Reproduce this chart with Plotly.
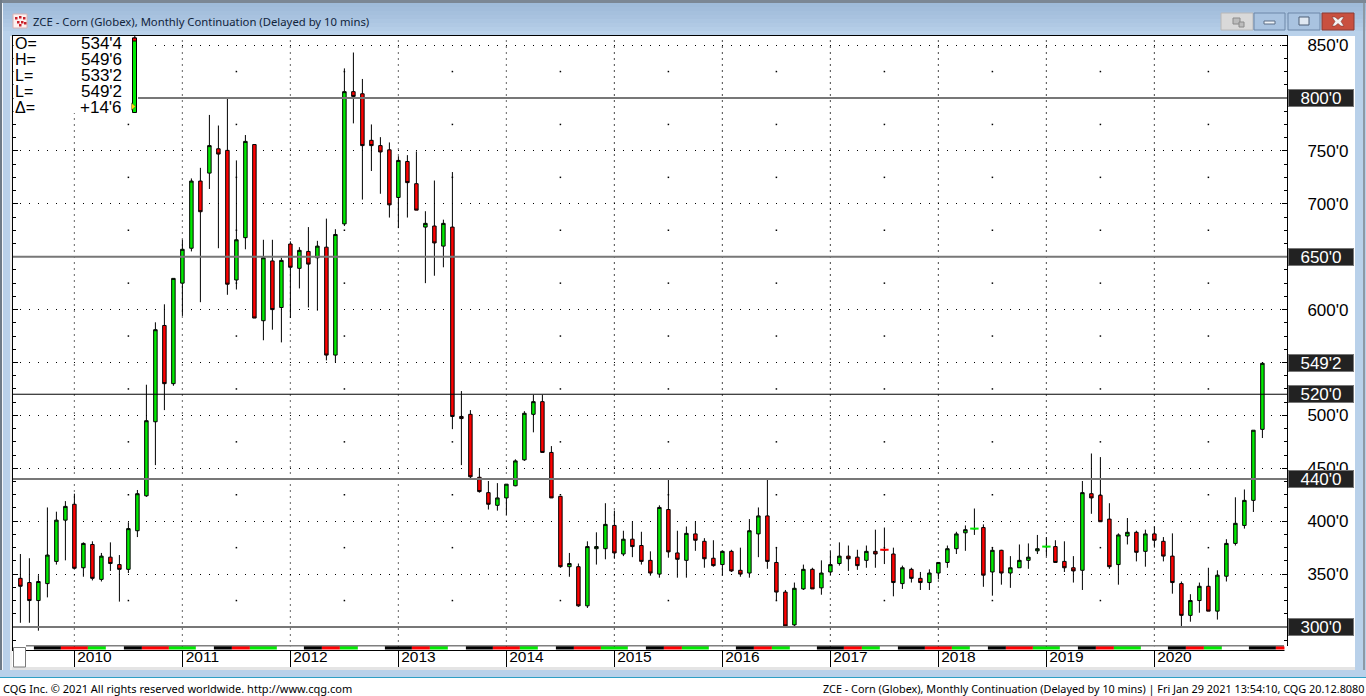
import plotly.graph_objects as go

# ---------- data ----------
month_index = list(range(-6, 133))  # months since Jan 2010; Jul 2009 .. Jan 2021
opens = [346,342,325,341,362,401,
 416,356,378,345,366,359,354.5,391,424,494,585,530,
 625,658,721.5,729,752,750.5,628,668,756,589.5,646,602,
 662,639,655,649,659,557,681,806,804,760,755,751,
 706,740,719,678,679,660,678,499,501,441.5,427,415,
 422,433.5,458,501,513,465,423.5,357,357,320,374,374,
 396,369,383,377,363,350,411,370,363,388,381,365,
 359,371.5,353.6,351,388,405,361,333,302,336,354.5,337,
 352,360,367,366,363,371.5,373,369,341,354.5,346,342,
 351,361,374,389,393,394,352,372.5,351,356,363,372,
 376,376,362,356,353.6,426,424.5,402,359,386,389.5,371.5,
 388,381,367,341,311,325,338.5,315,348,379,396,419.7,
 486.8]
closes = [338.5,325,343,368,401,414,
 355.5,379,346,367,360,354.5,393,426,495,581,530,629.5,
 657,721.5,692.5,755,747,624,666,759,592,649,600,646.5,
 640,656,643,660,557,671,806,801.5,755,755,749,699,
 741,720,694,681.5,663,681.5,499,497,442,428,416,422,
 435,457,502,513,465,422,357,360,320,376,376,397,
 370,383,376,362,351,413,371,364,388.5,382,364.5,358,
 371.5,353,350,391,405,362,333,301,336.6,354.5,336,351,
 359,367,364.5,358,371.5,369,373,342,356,346,342,351,
 361,374,388,392,393,349,372.5,351,356,363,366,374,
 376,361,356,353,427,422,399.5,357,387,389.5,370.6,388,
 382,367,342,311,325,338.5,315,349,379,398,419.7,486,
 549.25]
highs = [369,365,349,413,409,419,
 426,380,381,370,380,368,399,429.5,529,588,605,629.5,
 666,724,734,784,774,800,741,765,756,666,666,649,
 664.5,659,678,665,686,676,828,843,818,775,763,758,
 745,746,749.5,693,722,685,730,523,505,450,438,436,
 435,458.5,504,519.5,519.5,471,423.5,370,360,381,389.5,417,
 410,391,400,390,371.5,415,439,391,395,400,384,382,
 372,373,375,402,413,439.6,375,335,342,359,356,363,
 371.5,380,377,373,377,392,394,375,358,356,352,354.5,
 361,377,390,396,412,397,375,373,367,378,379,387,
 385,382,381,367,438,464,460.6,417,388.5,403,391,392,
 395,385,388.5,343,331,342,356,353.6,383,422.6,430,486,
 549.5]
lows = [304,304,296.5,328,359,363,
 355,347.5,344,343,353,324,351,385,423,453,505,528,
 594,655,607,714,658,614,619,657,592,571,581,569,
 592,620,602,599,552,550,679,776,704,731,709.5,687,
 677,687,694,625,632,640,487,453,440,427,411,410,
 406,433,457,484,465,422,356,347.5,319,318,359,364,
 364.5,367,366,359,348.5,346.6,365.5,346.6,346.6,372,356,357,
 348.5,352,347.5,346.6,366,355,325,300,300,335,336,330.5,
 350,358,353,354,356,356,359.5,329,336,342,335,335,
 345,356,369,372,387,338,329.6,340,337,356,355,369,
 367,361,352,342,335,407,399.5,355,340,378,362,357,
 375,362,331.5,300.5,305,313.5,315,307,343,377,393,408.7,
 478.6]
doji_months = [90, 100, 108]
doji_prices = [373, 393, 376]
doji_colors = ["#ff0000", "#00ea00", "#00ea00"]

year_ticks = list(range(0, 132, 12))
year_labels = ["2010","2011","2012","2013","2014","2015","2016","2017","2018","2019","2020"]
price_ticks = [300,350,400,450,500,550,600,650,700,750,800,850]
price_labels = ["","350'0","400'0","450'0","500'0","","600'0","","700'0","750'0","","850'0"]
level_lines = [800, 650, 520, 440, 300]
tag_prices = [800, 650, 549.25, 520, 440, 300]
tag_labels = ["800'0", "650'0", "549'2", "520'0", "440'0", "300'0"]
mid_year_months = [6 + 12 * k for k in range(11)]
mid_levels = [325,375,425,475,525,575,625,675,725,775,825]
legend_labels = ["O=", "H=", "L=", "L=", "Δ="]
legend_values = ["534'4", "549'6", "533'2", "549'2", "+14'6"]
# colour strip under the plot: repeating four-year pattern of month runs
strip_runs = [("#000000",3),("#ff0000",3),("#00ea00",2),("#ffffff",2),
              ("#000000",2),("#ff0000",3),("#00ea00",3),("#ffffff",2),
              ("#000000",2),("#ff0000",2),("#00ea00",3),("#ffffff",3),
              ("#000000",2),("#ff0000",2),("#00ea00",2),("#ffffff",3),
              ("#000000",3),("#ff0000",2),("#00ea00",2),("#ffffff",2)]

title_text = "ZCE - Corn (Globex), Monthly Continuation (Delayed by 10 mins)"
status_left = "CQG Inc. © 2021 All rights reserved worldwide. http://www.cqg.com"
status_right = "ZCE - Corn (Globex), Monthly Continuation (Delayed by 10 mins) | Fri Jan 29 2021 13:54:10, CQG 20.12.8080"

# ---------- layout geometry ----------
W, H = 1366, 696
L, R, T, B = 13, 1287, 36, 650
x_lo = -(74.4 - L) / 9
x_hi = x_lo + (R - L) / 9
px_per_pt = 52.9 / 50
y_lo = 300 - (B - 627) / px_per_pt
y_hi = 300 + (627 - T) / px_per_pt

def fx(p): return (p - L) / (R - L)
def fy(p): return (B - p) / (B - T)

shapes = []
def rect(x0, y0, x1, y1, fill, line=None, lw=1, layer="below"):
    shapes.append(dict(type="rect", xref="paper", yref="paper", x0=fx(x0), x1=fx(x1), y0=fy(y0), y1=fy(y1),
                       fillcolor=fill, line=dict(color=line or fill, width=lw if line else 0), layer=layer))

# ---------- window chrome ----------
band = ["#7b8794","#9fbbd9","#a2bddb","#a5c0dd","#a8c2df","#acc6e2","#b0c9e4","#b4cde7","#b9d1ea"]
for k, col in enumerate(band):
    y0 = 0 if k == 0 else 3 + (k - 1) * 4
    y1 = 3 if k == 0 else (36 if k == len(band) - 1 else 3 + k * 4)
    rect(0, y0, W, y1, col)
rect(0, 36, 12, 678, "#b9d1ea")
rect(0, 0, 2, 678, "#6f7b87")
rect(2, 3, 3, 676, "#f2f6fb")
rect(10, 36, 12, 670, "#f0f0f0")
rect(1288, 36, 1355, 670, "#ffffff")
rect(1355, 36, W, 678, "#b9d1ea")
rect(1363, 3, 1365, 677, "#8c99a6")
rect(12, 650, 1355, 669, "#ffffff")
rect(12, 667, 1355, 670, "#e4e4e4")
rect(0, 670, W, 677, "#b9d1ea")
rect(0, 677, W, 678, "#2f9fc4")
rect(0, 678, W, H, "#ffffff")

# title icon
rect(13, 14, 27, 28, "#fdf1f1", "#d8b0b0")
for (a, b) in [(15, 17), (19, 16), (23, 17), (17, 21), (21, 21), (19, 24), (24, 22)]:
    rect(a, b, a + 2.5, b + 2.5, "#c8202a")

# window buttons
rect(1221, 13, 1253, 30, "#d9d9d9", "#b8b8b8")
rect(1233, 18, 1240, 24, "#bcbcbc", "#8a8a8a")
rect(1239, 22, 1244, 27, "#bcbcbc", "#8a8a8a")
rect(1254, 13, 1285, 30, "#a9c3e0", "#6d87a8")
rect(1264, 21, 1275, 24, "#eef3f8", "#5c6f86")
rect(1288, 13, 1320, 30, "#a9c3e0", "#6d87a8")
rect(1299, 17, 1309, 25, "#dfe8f2", "#4c5f76")
rect(1322, 13, 1354, 30, "#c9503f", "#8a3a34")
shapes.append(dict(type="path", xref="paper", yref="paper", layer="below", fillcolor="#f4f4f4",
    line=dict(color="#6e2a24", width=0.5),
    path="M {a} {b} L {c} {b} L {d} {e} L {f} {b} L {g} {b} L {h} {i} L {g} {j} L {f} {j} L {d} {k} L {c} {j} L {a} {j} L {l} {i} Z".format(
        a=fx(1332), c=fx(1335), d=fx(1338), f=fx(1341), g=fx(1344), h=fx(1341), l=fx(1335),
        b=fy(17), e=fy(19.5), i=fy(21.5), j=fy(26), k=fy(23.5))))

# legend box and mini candle
rect(L + 0.5, T + 0.5, 140, 113, "#ffffff", layer="above")
rect(137, 43, 150, 47, "#ffffff", layer="above")
rect(134.3, 36, 135.3, 38, "#000000", layer="above")
rect(132.5, 38, 136.5, 112.5, "#00ea00", "#000000", layer="above")
rect(132.5, 38, 136.5, 41, "#ff0000", "#000000", layer="above")
shapes.append(dict(type="path", xref="paper", yref="paper", layer="above", fillcolor="#ffe000",
    line=dict(color="#555555", width=0.5),
    path="M {} {} L {} {} L {} {} Z".format(fx(131.5), fy(103), fx(135.5), fy(106.5), fx(131.5), fy(110))))

# level lines
for v in level_lines:
    shapes.append(dict(type="line", xref="paper", yref="y", x0=fx(138) if v == 800 else 0, x1=1, y0=v, y1=v, layer="above",
                       line=dict(color="#000000" if v == 520 else "#777777", width=1 if v == 520 else 2)))

# colour strip, positioned on the month axis
rect(26, 645.5, 1284, 646.5, "#000000", layer="above")
edge = -5.5
shapes.append(dict(type="rect", xref="x", yref="paper", x0=edge, x1=edge + 1, y0=fy(649.5), y1=fy(646.5), fillcolor="#ffffff", line=dict(width=0), layer="above"))
edge += 1
done = False
while not done:
    for col, n in strip_runs:
        end = min(edge + n, 134.5)
        shapes.append(dict(type="rect", xref="x", yref="paper", x0=edge, x1=end, y0=fy(649.5), y1=fy(646.5), fillcolor=col, line=dict(width=0), layer="above"))
        edge = end
        if edge >= 134.5:
            done = True
            break

# bottom-left box
rect(13.5, 647.5, 25.5, 667, "#ffffff", "#7a7a7a", 1, layer="above")
# strip end: frame stops above the strip
rect(1284.5, 646, 1288, 651.5, "#ffffff", layer="above")

# ---------- annotations ----------
MAIN = "Liberation Sans"
ann = []
def text(x, y, s, size=16, color="#000000", anchor="left", family=MAIN, height=None):
    ann.append(dict(xref="paper", yref="paper", x=fx(x), y=fy(y), text=s, showarrow=False, xanchor=anchor, yanchor="middle",
                    height=height, font=dict(family=family, size=size, color=color)))

text(30.5, 21.5, title_text, 11.3, "#10243c", family="Noto Sans")
text(0.5, 688, status_left, 11, "#000000", family="Noto Sans")
text(1366, 688, status_right, 10.85, "#000000", "right", family="Noto Sans")
for k, (a, b) in enumerate(zip(legend_labels, legend_values)):
    text(12.5, 43 + 16 * k, a, 16, height=14)
    text(123.5, 43 + 16 * k, b, 17, anchor="right", height=14)
for v, s in zip(tag_prices, tag_labels):
    ann.append(dict(xref="paper", yref="y", x=fx(1321), y=v, text=s, showarrow=False, xanchor="center", yanchor="middle",
                    width=64, height=16, bgcolor="#222222", bordercolor="#777777", borderwidth=1, borderpad=0, align="center",
                    font=dict(family=MAIN, size=17, color="#ffffff")))

# ---------- figure ----------
grid_step = 6 / px_per_pt
grid_count = int((y_hi - y_lo) / grid_step)
fig = go.Figure()
fig.add_trace(go.Scatter(
    x=[m for m in mid_year_months for _ in mid_levels],
    y=[v for _ in mid_year_months for v in mid_levels],
    mode="markers", marker=dict(symbol="square", size=1.5, color="#000000"), hoverinfo="skip", showlegend=False))
fig.add_trace(go.Scatter(
    x=[m for m in year_ticks for _ in range(grid_count)],
    y=[y_lo + 3 / px_per_pt + n * grid_step for _ in year_ticks for n in range(grid_count)],
    mode="markers", marker=dict(symbol="square", size=1.2, color="#000000"), hoverinfo="skip", showlegend=False))
fig.add_trace(go.Candlestick(
    x=month_index, open=opens, high=highs, low=lows, close=closes, yaxis="y2",
    increasing=dict(line=dict(color="#000000", width=1), fillcolor="#00ea00"),
    decreasing=dict(line=dict(color="#000000", width=1), fillcolor="#ff0000"),
    whiskerwidth=0, showlegend=False))
fig.add_trace(go.Scatter(
    x=doji_months, y=doji_prices, mode="markers", yaxis="y2",
    marker=dict(symbol="line-ew", size=6, line=dict(color=doji_colors, width=2)),
    hoverinfo="skip", showlegend=False))

fig.update_layout(
    width=W, height=H, margin=dict(l=L, r=W - R, t=T, b=H - B, pad=0, autoexpand=False),
    paper_bgcolor="#ffffff", plot_bgcolor="#ffffff", boxgap=0.45, showlegend=False,
    shapes=shapes, annotations=ann, hovermode=False,
    font=dict(family=MAIN, size=16, color="#000000"),
    xaxis=dict(range=[x_lo, x_hi], rangeslider=dict(visible=False), tickmode="array", tickvals=year_ticks, ticktext=year_labels,
               ticks="outside", ticklen=16, tickwidth=1, tickcolor="#000000", showgrid=False,
               zeroline=False, showline=True, linecolor="#000000", linewidth=1, mirror=True,
               ticklabelshift=20, ticklabelstandoff=-24, tickfont=dict(family=MAIN, size=15.5, color="#000000")),
    yaxis=dict(range=[y_lo, y_hi], side="right", tickmode="array", tickvals=price_ticks, ticktext=price_labels,
               ticks="inside", ticklen=5, tickwidth=1, tickcolor="#000000", showgrid=True, gridcolor="#000000", gridwidth=1,
               griddash="0px,7px,1px,1px", zeroline=False, showline=True, linecolor="#000000", linewidth=1, mirror="ticks",
               ticklabelstandoff=16, tickfont=dict(family=MAIN, size=17, color="#000000"),
               minor=dict(dtick=12.5, ticks="inside", ticklen=3, tickwidth=1, tickcolor="#000000", showgrid=False)),
    yaxis2=dict(range=[y_lo, y_hi], overlaying="y", side="right", visible=False, showgrid=False),
)
fig.write_html("out.html", config={"displayModeBar": False},
               post_script="document.body.style.margin='0';document.body.style.overflow='hidden';")
